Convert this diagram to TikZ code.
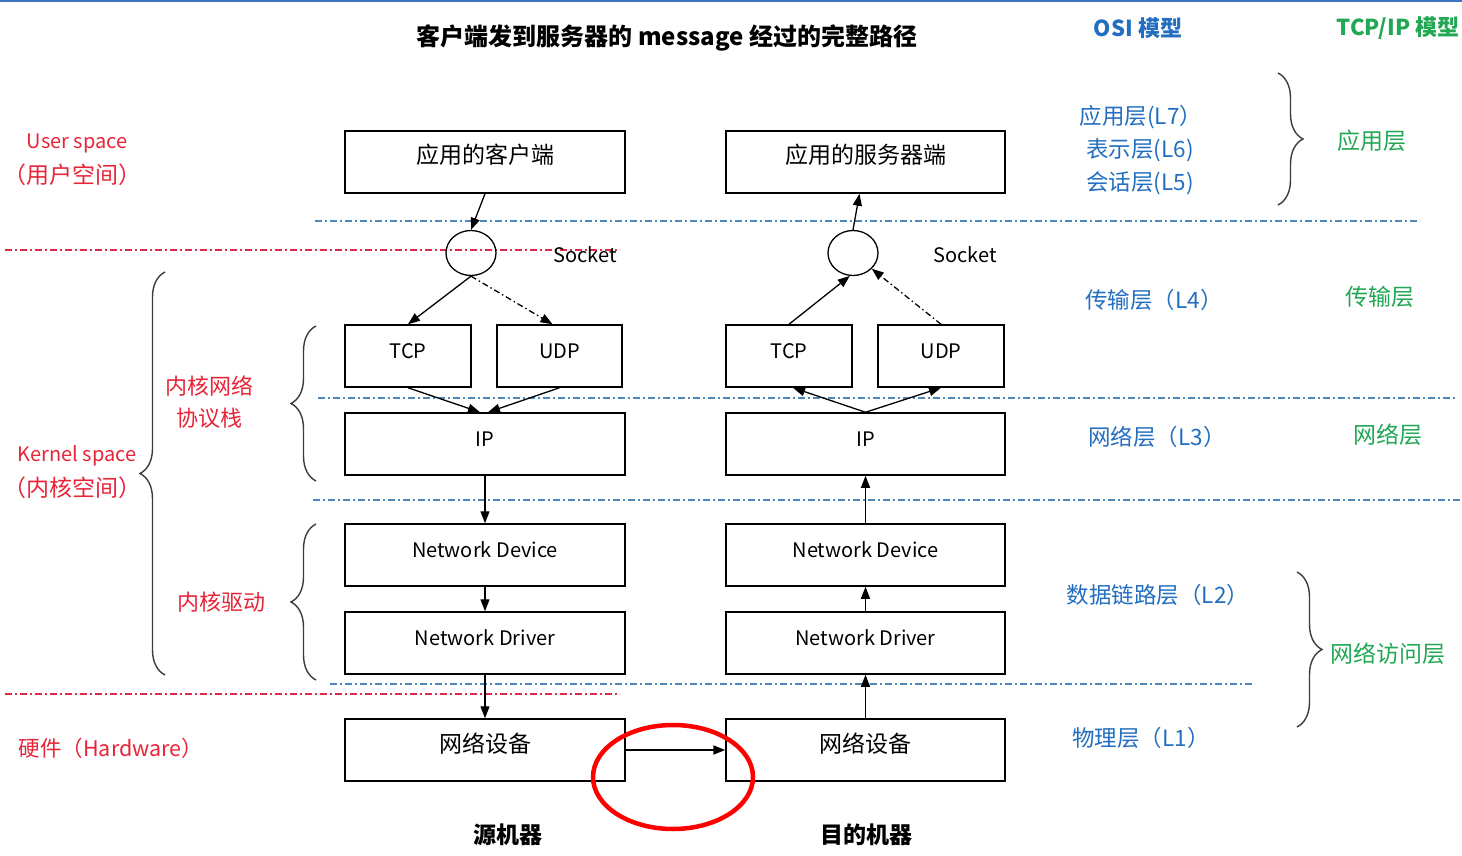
\documentclass[tikz,border=0pt]{standalone}
\usepackage{fontspec}
\setmainfont{Noto Sans CJK SC}
\usetikzlibrary{arrows.meta,decorations.pathreplacing,shapes.geometric}
\definecolor{redtxt}{RGB}{232,36,56}
\definecolor{bluetxt}{RGB}{34,110,192}
\definecolor{greentxt}{RGB}{34,168,84}
\definecolor{topblue}{RGB}{68,114,196}
\definecolor{sepblue}{RGB}{80,135,185}
\definecolor{sepred}{RGB}{225,40,70}
\definecolor{bracegray}{RGB}{60,60,60}
\begin{document}
\begin{tikzpicture}[x=1pt,y=-1pt,
  box/.style={draw, line width=1.5pt, inner sep=0pt, minimum height=62,
    text height=0.8em, text depth=0.4em,
    font=\fontsize{20}{24}\selectfont},
  cjkbox/.style={font=\fontsize{23}{27}\selectfont},
  widebox/.style={box, minimum width=280},
  smallbox/.style={box, minimum width=126},
  sock/.style={draw, ellipse, line width=1.3pt, minimum width=50, minimum height=45, inner sep=0pt},
  arr/.style={-{Triangle[length=12pt,width=9pt]}, line width=1.3pt},
  dotarr/.style={arr, dash pattern=on 6pt off 3pt on 1.5pt off 3pt},
  sepb/.style={sepblue, line width=1.6pt, dash pattern=on 7pt off 3pt on 2pt off 3pt},
  sepr/.style={sepred, line width=1.6pt, dash pattern=on 7pt off 3pt on 2pt off 3pt},
  redlbl/.style={text=redtxt, font=\fontsize{20}{24}\selectfont, inner sep=0pt},
  redcjk/.style={text=redtxt, font=\fontsize{23}{27}\selectfont, inner sep=0pt},
  osilbl/.style={text=bluetxt, font=\fontsize{22.5}{26}\selectfont, inner sep=0pt},
  tcplbl/.style={text=greentxt, font=\fontsize{23}{27}\selectfont, inner sep=0pt},
  brc/.style={decorate, decoration={brace, amplitude=25pt}, bracegray, line width=1.4pt},
  heading/.style={font=\fontsize{22}{26}\selectfont\bfseries, inner sep=0pt}
]
\useasboundingbox (0,0) rectangle (1462,856);
\fill[white] (0,0) rectangle (1462,856);
\fill[topblue] (0,0) rectangle (1462,2.5);

% headings
\node[heading, font=\fontsize{24}{28}\selectfont\bfseries] (title) at (667,38) {客户端发到服务器的 message 经过的完整路径};
\node[heading, text=bluetxt] (osi) at (1138,28) {OSI 模型};
\node[heading, text=greentxt] (tcpip) at (1398,28) {TCP/IP 模型};

% layer separators
\draw[sepb] (315,221) -- (1420,221);
\draw[sepr] (5,250) -- (620,250);
\draw[sepb] (318,398) -- (1455,398);
\draw[sepb] (313,500) -- (1462,500);
\draw[sepb] (330,684) -- (1255,684);
\draw[sepr] (5,694) -- (620,694);

% source host
\node[widebox, cjkbox] (cli) at (485,162) {应用的客户端};
\node[sock] (sockL) at (471,253) {};
\node[smallbox] (tcpL) at (408,356) {TCP};
\node[smallbox, minimum width=125] (udpL) at (559.5,356) {UDP};
\node[widebox] (ipL) at (485,444) {IP};
\node[widebox] (ndL) at (485,555) {Network Device};
\node[widebox] (drvL) at (485,643) {Network Driver};
\node[widebox, cjkbox] (devL) at (485,750) {网络设备};

% destination host
\node[widebox, cjkbox, minimum width=279] (srv) at (865.5,162) {应用的服务器端};
\node[sock] (sockR) at (853,253) {};
\node[smallbox] (tcpR) at (789,356) {TCP};
\node[smallbox] (udpR) at (941,356) {UDP};
\node[widebox, minimum width=279] (ipR) at (865.5,444) {IP};
\node[widebox, minimum width=279] (ndR) at (865.5,555) {Network Device};
\node[widebox, minimum width=279] (drvR) at (865.5,643) {Network Driver};
\node[widebox, cjkbox, minimum width=279] (devR) at (865.5,750) {网络设备};

\node[inner sep=0pt, font=\fontsize{20}{24}\selectfont] (skL) at (585,255) {Socket};
\node[inner sep=0pt, font=\fontsize{20}{24}\selectfont] (skR) at (965,255) {Socket};

% downward path in the source host
\draw[arr] (cli.south) -- (sockL.north);
\draw[arr] (sockL.south) -- (tcpL.north);
\draw[dotarr] (sockL.south) -- ([xshift=-7pt]udpL.north);
\draw[arr] (tcpL.south) -- ([xshift=-5pt]ipL.north);
\draw[arr] (udpL.south) -- ([xshift=3pt]ipL.north);
\draw[arr] (ipL.south) -- (ndL.north);
\draw[arr] (ndL.south) -- (drvL.north);
\draw[arr] (drvL.south) -- (devL.north);

% wire between the two hosts
\draw[arr, line width=2pt] (devL.east) -- (devR.west);

% upward path in the destination host
\draw[arr] (devR.north) -- (drvR.south);
\draw[arr] (drvR.north) -- (ndR.south);
\draw[arr] (ndR.north) -- (ipR.south);
\draw[arr] (ipR.north) -- ([xshift=4pt]tcpR.south);
\draw[arr] (ipR.north) -- (udpR.south);
\draw[arr] (tcpR.north) -- (sockR.262);
\draw[dotarr] (udpR.north) -- (sockR.320);
\draw[arr] (sockR.north) -- ([xshift=-6pt]srv.south);

% highlight around the wire
\draw[red, line width=4.5pt] (673,777) ellipse [x radius=80, y radius=52];

\node[heading, font=\fontsize{23}{27}\selectfont\bfseries] (srcname) at (508,835) {源机器};
\node[heading, font=\fontsize{23}{27}\selectfont\bfseries] (dstname) at (866,835) {目的机器};

% left: address spaces
\node[redlbl] (us1) at (77,143) {User space};
\node[redcjk] (us2) at (73,175) {（用户空间）};
\node[redlbl] (ks1) at (77,456) {Kernel space};
\node[redcjk] (ks2) at (73,488) {（内核空间）};
\node[redlbl, font=\fontsize{21.5}{26}\selectfont] (hw) at (111,748) {硬件（Hardware）};
\node[redlbl, font=\fontsize{22}{26}\selectfont] (ns1) at (209,386) {内核网络};
\node[redlbl, font=\fontsize{22}{26}\selectfont] (ns2) at (209,418) {协议栈};
\node[redlbl, font=\fontsize{22}{26}\selectfont] (drv) at (221,602) {内核驱动};

\draw[brc] (165,675) -- (165,272);
\draw[brc] (316,481) -- (316,326);
\draw[brc] (316,680) -- (316,524);

% right: OSI layers
\node[osilbl] (l7) at (1141,117) {应用层(L7）};
\node[osilbl] (l6) at (1140,150) {表示层(L6)};
\node[osilbl] (l5) at (1140,183) {会话层(L5)};
\node[osilbl] (l4) at (1154,300) {传输层（L4）};
\node[osilbl] (l3) at (1157,437) {网络层（L3）};
\node[osilbl] (l2) at (1158,595) {数据链路层（L2）};
\node[osilbl] (l1) at (1141,738) {物理层（L1）};

% right: TCP/IP layers
\node[tcplbl] (t4) at (1372,141) {应用层};
\node[tcplbl] (t3) at (1380,297) {传输层};
\node[tcplbl] (t2) at (1388,435) {网络层};
\node[tcplbl] (t1) at (1388,654) {网络访问层};

\draw[brc] (1278,73) -- (1278,205);
\draw[brc] (1297,572) -- (1297,727);
\end{tikzpicture}
\end{document}
